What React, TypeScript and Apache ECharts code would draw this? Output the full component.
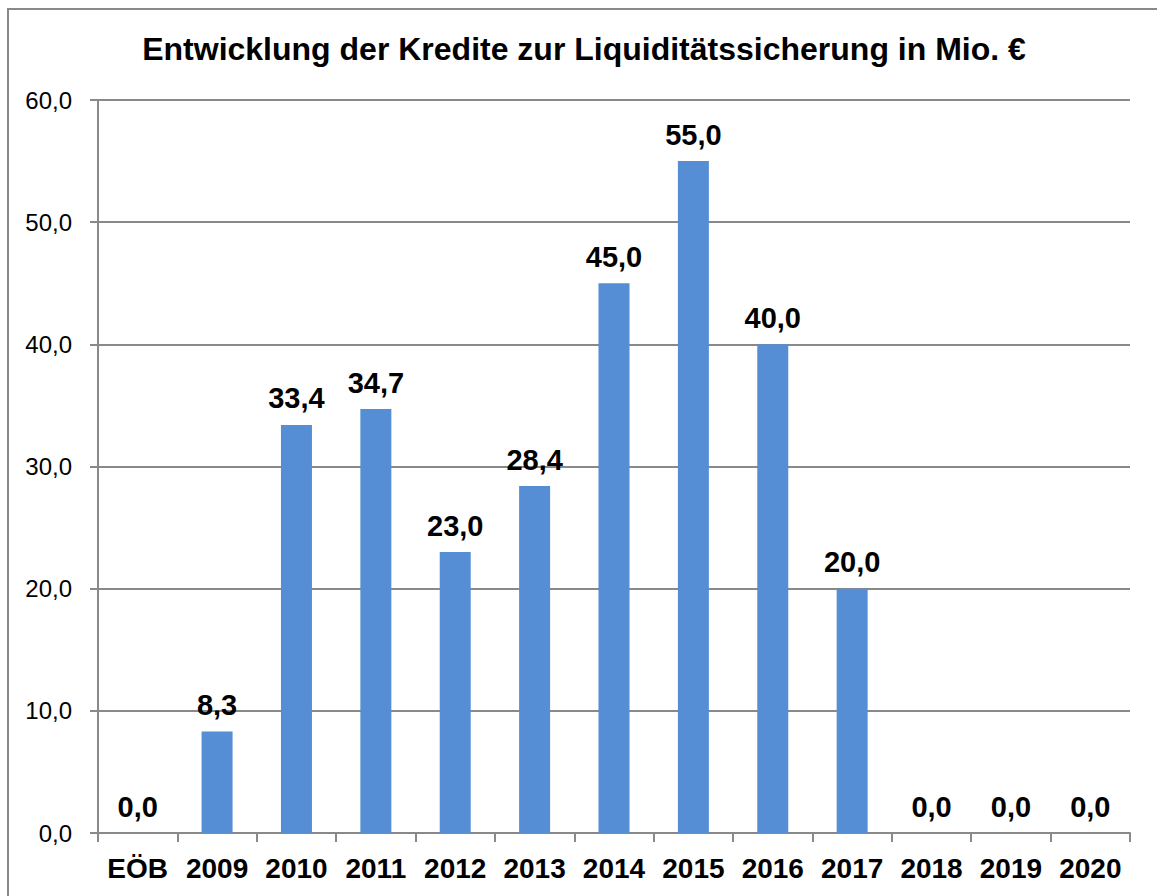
import React, { useEffect, useRef } from "react";
import * as echarts from "echarts";

const categories = ["EÖB", "2009", "2010", "2011", "2012", "2013", "2014", "2015", "2016", "2017", "2018", "2019", "2020"];
const values = [0, 8.3, 33.4, 34.7, 23.0, 28.4, 45.0, 55.0, 40.0, 20.0, 0, 0, 0];
const titleText = "Entwicklung der Kredite zur Liquiditätssicherung in Mio. €";

const fmt = (v: number) => v.toFixed(1).replace(".", ",");

export default function App() {
  const ref = useRef<HTMLDivElement>(null);
  useEffect(() => {
    if (!ref.current) return;
    const chart = echarts.init(ref.current, null, { renderer: "svg" });
    const gray = "#898989";
    chart.setOption({
      animation: false,
      backgroundColor: "#ffffff",
      textStyle: { fontFamily: "Liberation Sans, Arial, sans-serif" },
      title: {
        text: titleText,
        left: 584,
        top: 33,
        textAlign: "center",
        padding: 0,
        textStyle: { fontSize: 32, fontWeight: "bold", color: "#000", fontFamily: "Liberation Sans, Arial, sans-serif" },
      },
      graphic: [
        {
          type: "rect",
          shape: { x: 8, y: 9, width: 1170, height: 910 },
          style: { fill: "none", stroke: gray, lineWidth: 2 },
          silent: true,
        },
      ],
      grid: { left: 98, right: 27, top: 100, bottom: 63, containLabel: false },
      xAxis: {
        type: "category",
        data: categories,
        axisLine: { show: true, lineStyle: { color: gray, width: 2 } },
        axisTick: { show: true, length: 9, alignWithLabel: false, lineStyle: { color: gray, width: 2 } },
        axisLabel: { fontSize: 28, fontWeight: "bold", color: "#000", margin: 21, interval: 0 },
      },
      yAxis: {
        type: "value",
        min: 0,
        max: 60,
        interval: 10,
        axisLine: { show: true, lineStyle: { color: gray, width: 2 } },
        axisTick: { show: true, length: 8, lineStyle: { color: gray, width: 2 } },
        axisLabel: { fontSize: 24, color: "#000", margin: 26, formatter: (v: number) => fmt(v) },
        splitLine: { show: true, lineStyle: { color: gray, width: 2 } },
      },
      series: [
        {
          type: "bar",
          data: values,
          barWidth: 31,
          itemStyle: { color: "#558ED5" },
          label: {
            show: true,
            position: "top",
            distance: 12,
            fontSize: 29,
            fontWeight: "bold",
            color: "#000",
            formatter: (p: any) => fmt(p.value),
          },
        },
      ],
    });
    return () => chart.dispose();
  }, []);
  return (
    <div
      ref={ref}
      style={{ position: "absolute", left: 0, top: 0, width: 1157, height: 896 }}
    />
  );
}
